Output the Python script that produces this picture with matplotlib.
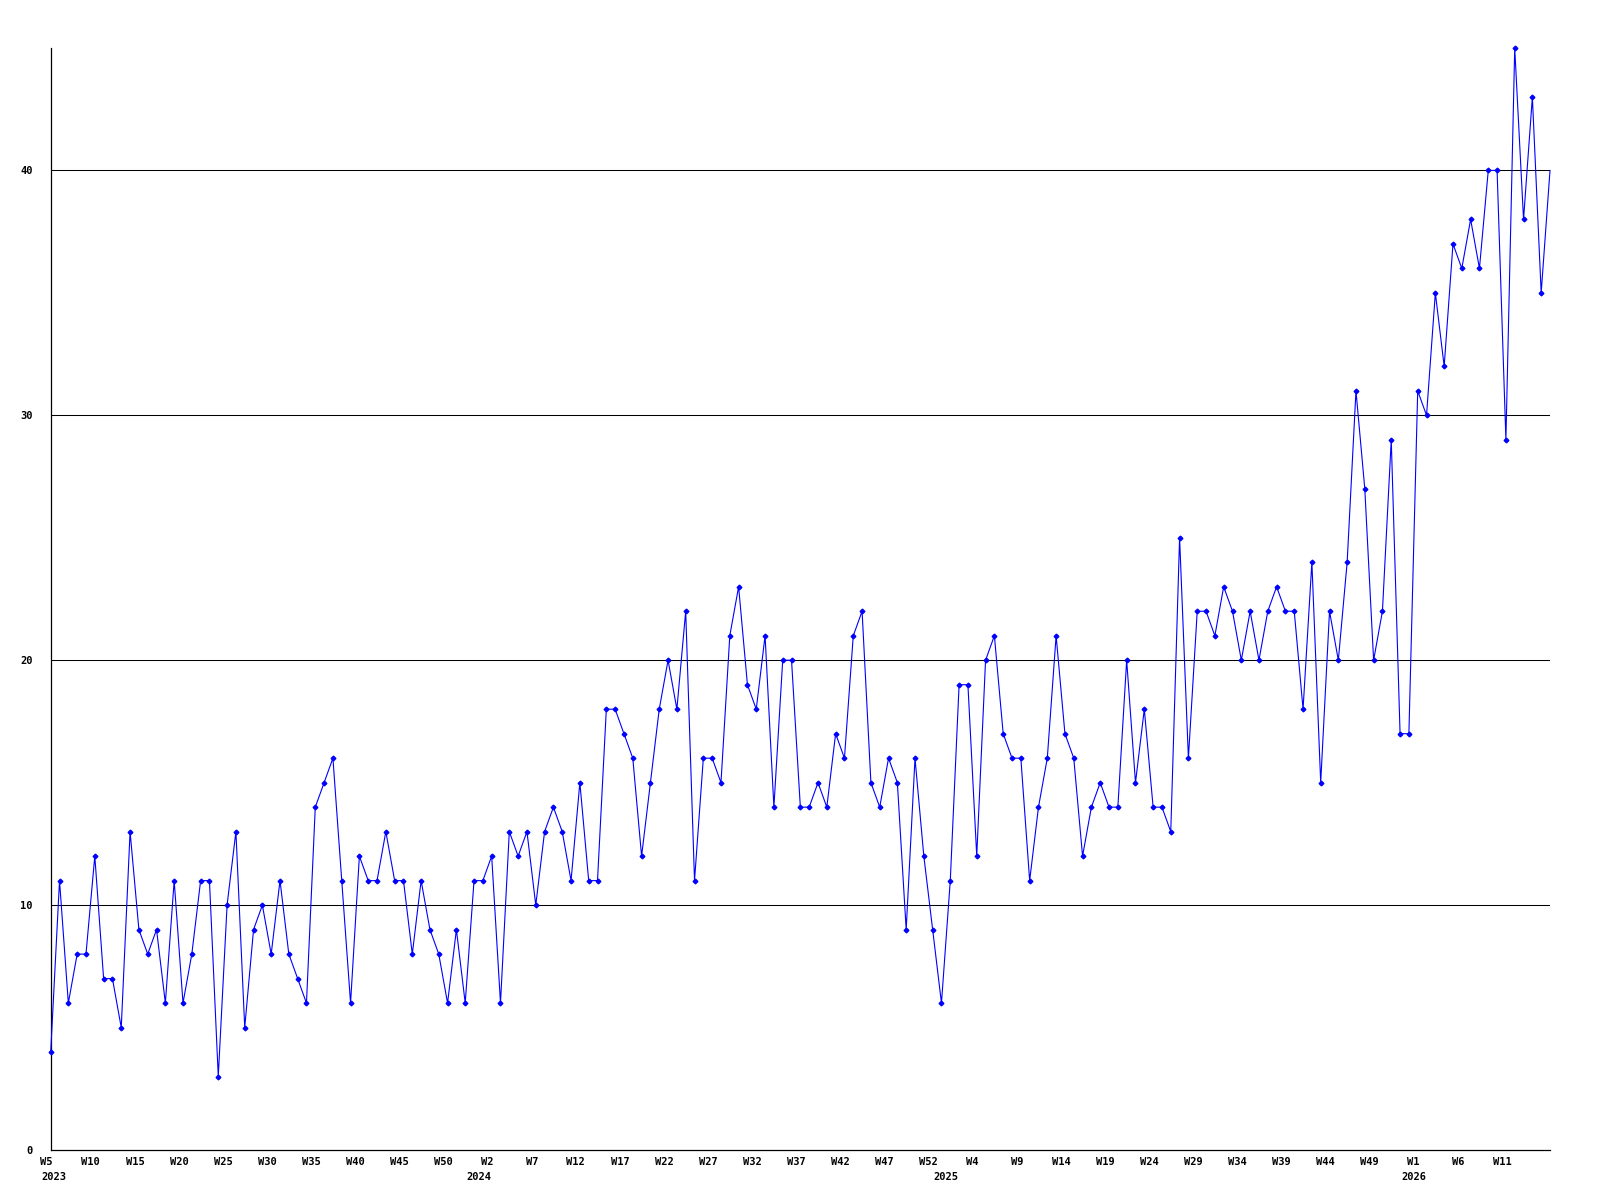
import numpy as np
import matplotlib
matplotlib.use("Agg")
import matplotlib.pyplot as plt
import matplotlib.transforms as mtransforms

# weekly values, one list per year (week numbering as in the source)
years = ["2023", "2024", "2025", "2026"]
first_weeks = [5, 1, 1, 1]

v2023 = [4, 11, 6, 8, 8, 12, 7, 7, 5, 13, 9, 8, 9, 6, 11, 6, 8, 11, 11, 3, 10, 13,
         5, 9, 10, 8, 11, 8, 7, 6, 14, 15, 16, 11, 6, 12, 11, 11, 13, 11, 11, 8, 11, 9,
         8, 6, 9, 6, 11]
v2024 = [11, 12, 6, 13, 12, 13, 10, 13, 14, 13, 11, 15, 11, 11, 18, 18, 17, 16, 12, 15,
         18, 20, 18, 22, 11, 16, 16, 15, 21, 23, 19, 18, 21, 14, 20, 20, 14, 14, 15, 14,
         17, 16, 21, 22, 15, 14, 16, 15, 9, 16, 12, 9, 6]
v2025 = [11, 19, 19, 12, 20, 21, 17, 16, 16, 11, 14, 16, 21, 17, 16, 12, 14, 15, 14, 14,
         20, 15, 18, 14, 14, 13, 25, 16, 22, 22, 21, 23, 22, 20, 22, 20, 22, 23, 22, 22,
         18, 24, 15, 22, 20, 24, 31, 27, 20, 22, 29, 17, 17]
v2026 = [31, 30, 35, 32, 37, 36, 38, 36, 40, 40, 29, 45, 38, 43, 35, 40]

series = [v2023, v2024, v2025, v2026]
values = np.concatenate(series)
x = np.arange(len(values))

# week number of every point
weeks = []
for fw, s in zip(first_weeks, series):
    weeks += [fw + i for i in range(len(s))]
year_starts = np.cumsum([0] + [len(s) for s in series[:-1]])
year_label_x = [0] + [int(s) for s in year_starts[1:]]

fig = plt.figure(figsize=(16, 12), dpi=100)
ax = fig.add_axes([50.7 / 1600, 50 / 1200, (1550 - 50.7) / 1600, (1150 - 48) / 1200])

for yv in [10, 20, 30, 40]:
    ax.axhline(yv, color="black", lw=0.75, zorder=1)

# last (current) week is drawn without a marker
ax.plot(x, values, color="#0000ff", lw=0.8, marker="D", markersize=2.4,
        markerfacecolor="#0000ff", markeredgecolor="#0000ff",
        markevery=list(range(len(values) - 1)), zorder=3, clip_on=False)

for side in ["top", "right"]:
    ax.spines[side].set_visible(False)
for side in ["left", "bottom"]:
    ax.spines[side].set_linewidth(0.9)
    ax.spines[side].set_color("black")

font = dict(family="DejaVu Sans Mono", weight="bold", size=7.5)

tick_pos = np.arange(0, len(values) - 1, 5)
ax.set_xticks(tick_pos)
ax.set_xticklabels([f"W{weeks[i]}" for i in tick_pos], **font)
ax.set_yticks([0, 10, 20, 30, 40])
ax.set_yticklabels(["0", "10", "20", "30", "40"], **font)
ax.tick_params(axis="x", length=0, pad=5)
ax.tick_params(axis="y", length=0, pad=13)
ax.set_xlim(0, len(values) - 1)
ax.set_ylim(0, 45)

shift = mtransforms.ScaledTranslation(-4 / 100, 0, fig.dpi_scale_trans)
for lab in ax.get_xticklabels():
    lab.set_transform(lab.get_transform() + shift)

trans = mtransforms.blended_transform_factory(ax.transData, ax.transAxes)
for yr, xp in zip(years, year_label_x):
    t = ax.text(xp, -0.0245, yr, transform=trans, ha="center", va="center", **font)
    if xp > 0:
        t.set_transform(trans + shift)
    else:
        t.set_transform(trans + mtransforms.ScaledTranslation(3 / 100, 0, fig.dpi_scale_trans))

fig.savefig("out.png", dpi=100)
